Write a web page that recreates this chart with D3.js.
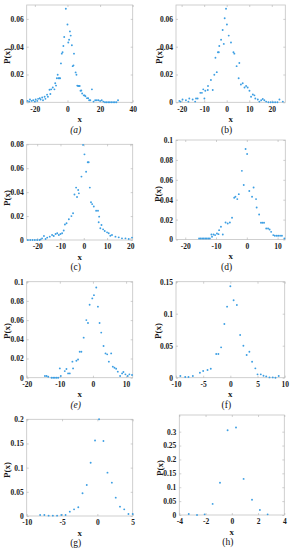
<!DOCTYPE html>
<html>
<head>
<meta charset="utf-8">
<script src="https://cdn.jsdelivr.net/npm/d3@7"></script>
<style>
  body { margin: 0; background: #fff; }
  text { font-family: "Liberation Serif", "Times New Roman", serif; }
</style>
</head>
<body>
<svg id="fig" width="292" height="550"></svg>
<script>
// points, [x, P(x)]
const ptsA = [[-24.5,0.001],[-23.5,0.0005],[-23,0.002],[-22,0.001],[-21,0.0015],[-20,0.0005],[-19.5,0.002],[-18.5,0.001],[-18,0.0025],[-17,0.003],
  [-16.5,0.002],[-15.5,0.0035],[-15,0.0015],[-14,0.004],[-13.5,0.0025],[-12.5,0.0055],[-12,0.004],[-11,0.009],[-10.5,0.006],[-10,0.0093],
  [-9,0.0107],[-8,0.0093],[-7.5,0.0137],[-7,0.012],[-6.5,0.0173],[-6,0.0198],[-5.5,0.0173],[-5,0.0173],[-4.5,0.0173],[-4,0.028],
  [-3.5,0.035],[-3,0.036],[-2.5,0.0405],[-2,0.047],[-1,0.0673],[0,0.056],[0.5,0.043],[1,0.045],[1.5,0.051],[2,0.048],
  [2.7,0.041],[3.2,0.026],[3.7,0.0266],[4,0.035],[5,0.0215],[5.5,0.0198],[6,0.012],[6.5,0.0117],[7,0.0117],[7.5,0.0117],
  [8,0.0083],[8.5,0.0085],[9,0.0063],[10,0.005],[10.5,0.005],[11,0.0044],[12,0.003],[12.7,0.003],[13.3,0.0015],[14,0.0015],
  [15,0.0093],[16,0.0005],[17,0.0015],[18,0.0015],[19,0.0015],[20,0.001],[21,0.0015],[22,0.0005],[23,0],[24,0],
  [25,0],[26,0],[27,0],[28,0],[29,0],[30,0],[31,0.0015]];
const ptsB = [[-21,0.001],[-20.5,0.0005],[-19.6,0.002],[-18.1,0.0015],[-17,0.0005],[-16.6,0.0027],[-15.1,0.002],[-14,0.0005],[-13.6,0.0027],[-12.9,0.0027],
  [-11.7,0.0068],[-11,0.0068],[-10.4,0.0093],[-9.9,0.0027],[-9.5,0.0083],[-8.4,0.0088],[-8.3,0.0117],[-7,0.016],[-6.2,0.0088],[-5.5,0.0198],
  [-5,0.032],[-4.4,0.0217],[-3.9,0.036],[-3.5,0.036],[-3.3,0.0405],[-2.5,0.045],[-1.8,0.052],[-1.3,0.042],[-0.9,0.0605],[-0.3,0.0673],
  [0.1,0.056],[0.9,0.048],[1.9,0.043],[3,0.036],[3.4,0.035],[4.4,0.026],[5.3,0.0173],[5.6,0.0283],[6.3,0.0128],[7.1,0.0137],
  [7.9,0.0107],[8.6,0.0117],[9.3,0.0107],[10.1,0.0083],[10.8,0.004],[11.6,0.0056],[12.3,0.005],[12.7,0.0027],[13.8,0.002],[14.5,0.0005],
  [15.3,0.0015],[16,0.0024],[16.7,0.0015],[17.5,0.0005],[18.5,0],[19.5,0],[20.5,0],[21.5,0],[22.5,0],[23.4,0.002],[24.9,0.0005]];
const ptsC = [[-24,0],[-23,0],[-22,0],[-21,0],[-20,0],[-19,0],[-18.5,0.0005],[-17.9,0.0014],[-17.1,0.0033],[-16.4,0.0008],
  [-15.7,0.002],[-14.6,0.0028],[-13.6,0.0042],[-12.9,0.0033],[-12.1,0.005],[-11.4,0.0056],[-10.7,0.0042],[-10,0.005],[-9.3,0.0056],[-8.6,0.008],
  [-8.1,0.013],[-7.4,0.014],[-6.4,0.0173],[-5.3,0.02],[-4.6,0.0223],[-4,0.038],[-3.3,0.0438],[-2.9,0.036],[-2.4,0.0418],[-2.1,0.039],
  [-1,0.053],[-0.3,0.0795],[0.3,0.0716],[1,0.057],[1.7,0.065],[2.1,0.065],[2.6,0.0438],[3.1,0.0315],[3.6,0.03],[4.3,0.028],
  [5.3,0.0245],[6.1,0.0245],[6.4,0.0148],[6.6,0.0195],[7.1,0.0098],[7.6,0.0125],[8.3,0.0089],[9,0.0075],[10,0.0064],[10.7,0.0056],
  [11.4,0.0035],[12.1,0.0042],[13.6,0.0028],[15,0.0022],[16.4,0.0014],[17.9,0.0014],[19.3,0.0008],[20.7,0.002]];
const ptsD = [[-15.5,0.001],[-15,0.001],[-14.5,0.001],[-14,0.001],[-13.5,0.001],[-13,0.001],[-12.5,0.001],[-12,0.001],[-11.5,0.005],[-11.3,0.0027],
  [-10.8,0.005],[-10.3,0.0044],[-9.7,0.006],[-9.2,0.0054],[-9,0.0094],[-8.4,0.0128],[-7.8,0.005],[-6.9,0.0171],[-6.2,0.0161],[-5.5,0.0171],
  [-4.8,0.0218],[-4.1,0.042],[-3.7,0.043],[-3.1,0.0406],[-2.6,0.0456],[-1.6,0.069],[-1,0.0547],[-0.4,0.091],[0.1,0.086],[0.8,0.0487],
  [1.7,0.043],[2.2,0.0523],[3,0.0406],[3.2,0.0322],[4,0.0252],[4.6,0.0168],[5.1,0.0168],[5.6,0.0168],[6.3,0.011],[6.9,0.011],
  [7.4,0.01],[7.9,0.0077],[8.6,0.0044],[9.1,0.0037],[9.7,0.0037],[10.2,0.0037],[10.8,0.0037],[11.4,0.0037],[12.2,0.001]];
const ptsE = [[-14.5,0.0017],[-14,0.0017],[-13.5,0.001],[-12.5,0],[-12,0],[-11.5,0],[-11,0],[-10.5,0],[-10,0.0097],[-9.7,0.0017],
  [-8.5,0.0069],[-8,0.009],[-7.5,0.0045],[-7,0.0045],[-6.2,0.0167],[-6,0.0097],[-5,0.0177],[-4.5,0.019],[-4,0.027],[-3.5,0.027],
  [-2.8,0.0417],[-2,0.06],[-1.5,0.057],[-1,0.076],[-0.2,0.0826],[0.3,0.086],[1,0.094],[1.5,0.074],[2,0.057],[2.5,0.047],
  [3.2,0.033],[3.8,0.0253],[4.3,0.0243],[4.8,0.0167],[5.5,0.0253],[6,0.0115],[6.5,0.0104],[7,0.0094],[7.5,0.0063],[8.2,0.0017],
  [8.8,0.0045],[9.2,0.006],[9.8,0.0035],[10.5,0.0017],[11,0.0035],[11.8,0.0028]];
const ptsF = [[-9.2,0.0026],[-8.3,0.001],[-7.7,0.001],[-6.9,0.0026],[-5.6,0.0078],[-5,0.0104],[-4.2,0.012],[-3.6,0.014],[-2.6,0.037],[-2.2,0.037],
  [-1.7,0.0474],[-1.1,0.084],[-0.6,0.111],[0,0.143],[0.6,0.121],[1.2,0.1135],[1.8,0.0667],[2.4,0.05],[3,0.0354],[3.5,0.0406],
  [4,0.025],[4.6,0.0146],[5,0.0052],[5.6,0.0052],[6.1,0.0031],[6.6,0.002],[7.2,0.0005],[7.8,0.0005],[8.3,0],[8.9,0.0026]];
const ptsG = [[-8.1,0.002],[-7.5,0.002],[-6.9,0.0007],[-6.3,0.0007],[-5.7,0.0007],[-5.1,0.002],[-4.5,0.002],[-3.9,0.009],[-3.3,0.0138],[-2.7,0.018],
  [-2.1,0.047],[-1.5,0.064],[-0.95,0.11],[-0.33,0.156],[0.24,0.2],[0.86,0.155],[1.43,0.0897],[2.05,0.069],[2.6,0.038],[3.2,0.0193],
  [3.8,0.0138],[4.4,0.0041],[5,0.0041]];
const ptsH = [[-3.28,0.0037],[-2.65,0],[-2.07,0.0024],[-1.46,0.04],[-0.9,0.116],[-0.32,0.305],[0.32,0.315],[0.9,0.13],[1.54,0.055],[2.14,0.018],[2.73,0.0024]];

// tick labels
const xTicksA = [-20, 0, 20, 40];
const xTicksB = [-20, -10, 0, 10, 20];
const xTicksD = [-20, -10, 0, 10];
const xTicksF = [-10, -5, 0, 5, 10];
const xTicksG = [-10, -5, 0, 5];
const xTicksH = [-4, -2, 0, 2, 4];
const yTicksAB = [0, 0.02, 0.04, 0.06];
const yTicksC = [0, 0.02, 0.04, 0.06, 0.08];
const yTicksDE = [0, 0.02, 0.04, 0.06, 0.08, 0.1];
const yTicksF = [0, 0.05, 0.1, 0.15];
const yTicksG = [0, 0.05, 0.1, 0.15, 0.2];
const yTicksH = [0, 0.05, 0.1, 0.15, 0.2, 0.25, 0.3];
const captions = ["(a)", "(b)", "(c)", "(d)", "(e)", "(f)", "(g)", "(h)"];

// layout of each subplot: box [left, top, right, bottom], axis limits, y label pos
const panels = [
  {pts: ptsA, xd: [-25, 40],   xt: xTicksA, yd: [0, 0.07], yt: yTicksAB, box: [26.7, 5, 132.7, 102.3],   ly: [6.8, 56], it: true},
  {pts: ptsB, xd: [-22.5, 26], xt: xTicksB, yd: [0, 0.07], yt: yTicksAB, box: [176, 5, 285.3, 102.3],    ly: [158.5, 56]},
  {pts: ptsC, xd: [-24.5, 21], xt: xTicksB, yd: [0, 0.08], yt: yTicksC,  box: [26.7, 144.3, 132.7, 240], ly: [6.8, 198]},
  {pts: ptsD, xd: [-23, 12.5], xt: xTicksD, yd: [0, 0.1],  yt: yTicksDE, box: [176, 140, 285.3, 239.5],  ly: [157.5, 194]},
  {pts: ptsE, xd: [-20, 12],   xt: xTicksD, yd: [0, 0.1],  yt: yTicksDE, box: [26.7, 281.7, 132.7, 377.7], ly: [6.8, 331], it: true},
  {pts: ptsF, xd: [-10, 10],   xt: xTicksF, yd: [0, 0.15], yt: yTicksF,  box: [176, 281.7, 284.7, 377.7], ly: [158, 331]},
  {pts: ptsG, xd: [-10, 5],    xt: xTicksG, yd: [0, 0.2],  yt: yTicksG,  box: [26.7, 419.3, 132.7, 516], ly: [6.8, 470]},
  {pts: ptsH, xd: [-4, 4],     xt: xTicksH, yd: [0, 0.36], yt: yTicksH,  box: [179.3, 415, 284.3, 515],   ly: [159.5, 468]}
];

const svg = d3.select("#fig");
svg.append("rect").attr("width", 292).attr("height", 550).attr("fill", "#fff");

const fmt = d => String(+d.toFixed(4));

panels.forEach((p, i) => {
  const [L, T, R, B] = p.box;
  const x = d3.scaleLinear().domain(p.xd).range([L, R]);
  const y = d3.scaleLinear().domain(p.yd).range([B, T]);
  const g = svg.append("g");

  g.append("rect")
    .attr("x", L).attr("y", T).attr("width", R - L).attr("height", B - T)
    .attr("fill", "#fff").attr("stroke", "#c4c4c4").attr("stroke-width", 0.8);

  // axes, ticks pointing inward like matlab
  const xa = g.append("g").attr("transform", `translate(0,${B})`)
    .call(d3.axisBottom(x).tickValues(p.xt).tickSize(-2).tickPadding(4).tickFormat(fmt));
  const ya = g.append("g").attr("transform", `translate(${L},0)`)
    .call(d3.axisLeft(y).tickValues(p.yt).tickSize(-2).tickPadding(3).tickFormat(fmt));
  g.append("g").attr("transform", `translate(0,${T})`)
    .call(d3.axisTop(x).tickValues(p.xt).tickSize(-2).tickFormat(""));
  g.append("g").attr("transform", `translate(${R},0)`)
    .call(d3.axisRight(y).tickValues(p.yt).tickSize(-2).tickFormat(""));
  g.selectAll(".domain").remove();
  g.selectAll(".tick line").attr("stroke", "#b0b0b0").attr("stroke-width", 0.6);
  [xa, ya].forEach(a => a.selectAll("text")
    .attr("fill", "#1a1a1a").style("font-size", "7.5px").style("font-weight", "bold")
    .style("font-family", '"Liberation Serif", serif'));

  // points
  g.append("g").selectAll("circle")
    .data(p.pts)
    .enter()
    .append("circle")
      .attr("cx", d => x(d[0]))
      .attr("cy", d => y(d[1]))
      .attr("r", 0.95)
      .attr("fill", "#3d9fe3");

  // labels
  const cx = (L + R) / 2;
  g.append("text").attr("x", cx).attr("y", B + 16.5).attr("dy", "0.35em")
    .attr("text-anchor", "middle").attr("fill", "#1a1a1a")
    .style("font-size", "9px").style("font-weight", "bold").text("x");
  g.append("text")
    .attr("transform", `translate(${p.ly[0]},${p.ly[1]}) rotate(-90)`)
    .attr("dy", "0.35em").attr("text-anchor", "middle").attr("fill", "#1a1a1a")
    .style("font-size", "9px").style("font-weight", "bold").text("P(x)");
  g.append("text").attr("x", cx - 4).attr("y", B + 27).attr("dy", "0.35em")
    .attr("text-anchor", "middle").attr("fill", "#111")
    .style("font-size", "9.5px").style("font-style", p.it ? "italic" : "normal")
    .text(captions[i]);
});
</script>
</body>
</html>
